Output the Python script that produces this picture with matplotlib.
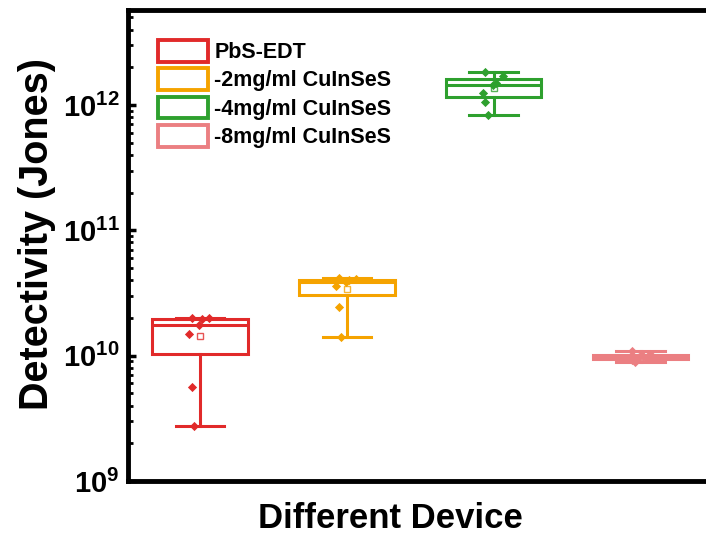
import matplotlib
matplotlib.use("Agg")
import matplotlib.pyplot as plt
from matplotlib.patches import Rectangle
import numpy as np

plt.rcParams['font.family'] = ['Liberation Sans', 'DejaVu Sans']
plt.rcParams['mathtext.fontset'] = 'custom'
plt.rcParams['mathtext.rm'] = 'Liberation Sans:bold'
plt.rcParams['mathtext.bf'] = 'Liberation Sans:bold'

# ---- data ----
labels = ['PbS-EDT', '-2mg/ml CuInSeS', '-4mg/ml CuInSeS', '-8mg/ml CuInSeS']
colors = ['#E12A2A', '#F5A300', '#2EA02E', '#EB7F82']
pbs_edt = [2.0e10, 2.0e10, 1.95e10, 1.75e10, 1.5e10, 5.6e9, 2.75e9]
cis_2mg = [4.2e10, 4.1e10, 4.0e10, 3.9e10, 3.6e10, 2.45e10, 1.4e10]
cis_4mg = [1.85e12, 1.7e12, 1.5e12, 1.45e12, 1.25e12, 1.05e12, 8.3e11]
cis_8mg = [1.08e10, 1.04e10, 1.0e10, 9.8e9, 9.5e9, 9.2e9, 8.9e9]
groups = [pbs_edt, cis_2mg, cis_4mg, cis_8mg]
ytick_vals = [1e9, 1e10, 1e11, 1e12]
ytick_labels = [r'$\mathbf{10^{9}}$', r'$\mathbf{10^{10}}$', r'$\mathbf{10^{11}}$', r'$\mathbf{10^{12}}$']
xlabel = 'Different Device'
ylabel = 'Detectivity (Jones)'

# small horizontal scatter of the overlaid points (style only)
jitter = [-0.07, 0.08, 0.02, -0.01, -0.09, -0.07, -0.05]

fig = plt.figure(figsize=(7.06, 5.40), dpi=100)
ax = fig.add_axes([128/706, 59/540, 586/706, 471/540])

positions = np.arange(1, len(groups) + 1)
for pos, data, c in zip(positions, groups, colors):
    lw = 2.2
    ax.boxplot([data], positions=[pos], widths=0.65, whis=(0, 100),
               showfliers=False, patch_artist=True, showmeans=True,
               boxprops=dict(facecolor='white', edgecolor=c, linewidth=lw),
               medianprops=dict(color=c, linewidth=lw),
               whiskerprops=dict(color=c, linewidth=lw),
               capprops=dict(color=c, linewidth=lw),
               capwidths=0.33,
               meanprops=dict(marker='s', markerfacecolor='white',
                              markeredgecolor=c, markersize=5,
                              markeredgewidth=1.0, alpha=0.8))
    xs = pos + np.array(jitter[:len(data)]) * 0.8
    ax.scatter(xs, data, marker='D', s=22, color=c, zorder=5, linewidths=0)

ax.set_yscale('log')
ax.set_ylim(1e9, 10 ** 12.758)
ax.set_xlim(0.51, 4.5)
ax.set_yticks(ytick_vals)
ax.set_yticklabels(ytick_labels)
ax.tick_params(axis='y', which='major', direction='in', length=6, width=2.5,
               labelsize=21, pad=6)
ax.tick_params(axis='y', which='minor', direction='in', length=3.5, width=2.0)
ax.tick_params(axis='x', bottom=False, labelbottom=False)
for s in ax.spines.values():
    s.set_linewidth(3.5)
ax.spines['right'].set_visible(False)

ax.set_ylabel(ylabel, fontsize=28.5, fontweight='bold')
ax.yaxis.set_label_coords(-0.123, 0.524)
fig.text(390/706, 1 - 518/540, xlabel, fontsize=25, fontweight='bold',
         ha='center', va='center')

handles = [Rectangle((0, 0), 1, 1, facecolor='white', edgecolor=c, linewidth=2.8)
           for c in colors]
leg = ax.legend(handles, labels, loc='upper left',
                bbox_to_anchor=(158/706, 1 - 40/540), bbox_transform=fig.transFigure,
                frameon=False, prop=dict(weight='bold', size=15.5),
                handlelength=2.33, handleheight=1.16, labelspacing=0.25,
                handletextpad=0.28, borderpad=0, borderaxespad=0)

fig.savefig('out.png', dpi=100)
